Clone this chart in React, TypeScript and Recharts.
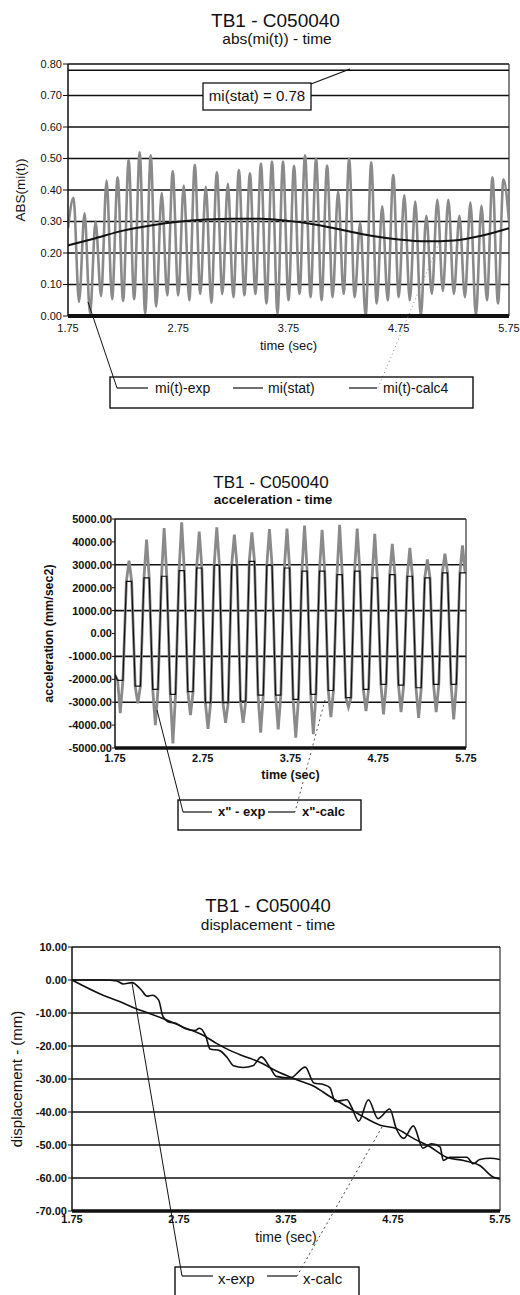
import React from 'react';
import { LineChart, Line, XAxis, YAxis, CartesianGrid, ReferenceLine } from 'recharts';

const FONT = '"Liberation Sans", Arial, Helvetica, sans-serif';
const INK = '#111';
const GREY = '#8a8a8a';

// shared time axis
const TIME_TICKS = [1.75, 2.75, 3.75, 4.75, 5.75];
const TIME_DOMAIN = [1.75, 5.75];

// ---- chart 1: abs(mi(t)) - time
const MI_TICKS = [0, 0.1, 0.2, 0.3, 0.4, 0.5, 0.6, 0.7, 0.8];
const MI_EXP_START = 1.75;
const MI_EXP_STEP = 0.05;
const MI_EXP_FIRST = 0.28;
const MI_EXP_LAST = 0.3;
const MI_EXP_PEAKS = [
  0.375, 0.326, 0.3, 0.43, 0.44, 0.495, 0.52, 0.51, 0.39, 0.46,
  0.414, 0.48, 0.41, 0.456, 0.42, 0.463, 0.453, 0.484, 0.49, 0.49,
  0.477, 0.51, 0.5, 0.478, 0.395, 0.5, 0.297, 0.488, 0.348, 0.448,
  0.383, 0.363, 0.318, 0.369, 0.369, 0.318, 0.36, 0.35, 0.44, 0.434,
];
const MI_EXP_TROUGHS = [
  0.045, 0.008, 0.063, 0.053, 0.048, 0.053, 0.008, 0.03, 0.066, 0.066,
  0.05, 0.07, 0.042, 0.07, 0.06, 0.066, 0.07, 0.04, 0.008, 0.05,
  0.07, 0.06, 0.05, 0.06, 0.07, 0.06, 0.0, 0.04, 0.05, 0.06,
  0.05, 0.0, 0.07, 0.08, 0.07, 0.06, 0.0, 0.05, 0.04,
];
const MI_STAT = 0.78;
const MI_CALC4_TIMES = [1.75, 2.0, 2.25, 2.5, 2.75, 3.0, 3.25, 3.5, 3.75, 4.0, 4.25, 4.5, 4.75, 5.0, 5.25, 5.5, 5.75];
const MI_CALC4 = [0.224, 0.247, 0.271, 0.287, 0.299, 0.306, 0.309, 0.309, 0.302, 0.29, 0.272, 0.255, 0.243, 0.237, 0.24, 0.255, 0.279];
const MI_LEGEND = ['mi(t)-exp', 'mi(stat)', 'mi(t)-calc4'];

// ---- chart 2: acceleration - time
const ACC_TICKS = [-5000, -4000, -3000, -2000, -1000, 0, 1000, 2000, 3000, 4000, 5000];
const ACC_FIRST_TROUGH = 1.81;
const ACC_PERIOD = 0.2;
const ACC_FLAT = 0.03;
const ACC_EXP_FIRST = -1800;
const ACC_EXP_LAST = 3300;
const ACC_EXP_TROUGHS = [
  -3480, -3050, -4000, -4800, -3560, -4160, -3900, -3900, -4330, -4190,
  -4550, -4400, -3650, -3210, -3390, -3530, -3430, -3680, -3430, -3750,
];
const ACC_EXP_PEAKS = [
  3180, 4100, 4600, 4860, 4450, 4640, 4320, 4420, 4560, 4580,
  4710, 4530, 4750, 4580, 4350, 3910, 3740, 3230, 3490, 3850,
];
// levels where the calculated curve flattens (the measured curve crosses them too)
const ACC_CALC_FIRST = -1800;
const ACC_CALC_LAST = 2650;
const ACC_CALC_BOTTOMS = [
  -2050, -2300, -2440, -2660, -2540, -3020, -3020, -2950, -2690, -2690,
  -2880, -2660, -2490, -2800, -2440, -2220, -2250, -2370, -2220, -2220,
];
const ACC_CALC_TOPS = [
  2280, 2430, 2500, 2750, 2860, 2980, 3000, 3150, 2980, 2860,
  2720, 2720, 2570, 2720, 2430, 2570, 2500, 2430, 2650, 2650,
];
const ACC_LEGEND = ['x" - exp', 'x"-calc'];

// ---- chart 3: displacement - time
const DISP_TICKS = [-70, -60, -50, -40, -30, -20, -10, 0, 10];
const DISP_EXP_T = [
  1.75, 1.9, 2.05, 2.17, 2.23, 2.31, 2.4, 2.45, 2.5, 2.56, 2.6, 2.66, 2.72, 2.8, 2.9, 2.94, 3.0,
  3.04, 3.13, 3.2, 3.26, 3.35, 3.44, 3.52, 3.6, 3.66, 3.79, 3.93, 4.01, 4.1, 4.16, 4.21, 4.32,
  4.36, 4.43, 4.52, 4.61, 4.72, 4.78, 4.85, 4.94, 5.03, 5.11, 5.19, 5.22, 5.28, 5.44, 5.5, 5.56,
  5.66, 5.75,
];
const DISP_EXP = [
  0, 0, 0, -0.3, -1.2, -0.8, -3.1, -4.9, -4.6, -6.1, -11.0, -12.8, -13.1, -14.6, -15.3, -14.6, -17.0,
  -20.9, -21.4, -23.5, -26.0, -26.5, -26.0, -23.3, -26.5, -29.2, -29.7, -26.4, -31.2, -31.7, -32.6, -36.8, -36.3,
  -38.3, -42.8, -36.3, -42.0, -39.1, -45.0, -48.0, -44.2, -51.0, -49.6, -50.6, -54.7, -53.7, -53.7, -55.7, -54.4,
  -54.0, -54.4,
];
const DISP_CALC_T = [
  1.75, 2.04, 2.2, 2.35, 2.48, 2.64, 2.79, 2.98, 3.1, 3.23, 3.35, 3.51, 3.66, 3.85,
  4.01, 4.16, 4.32, 4.47, 4.63, 4.78, 4.94, 5.1, 5.25, 5.41, 5.56, 5.69, 5.75,
];
const DISP_CALC = [
  0, -4.6, -6.6, -8.7, -10.2, -12.2, -14.3, -16.8, -19.2, -21.4, -23.0, -25.0, -27.6, -30.2,
  -32.2, -35.3, -38.4, -41.4, -44.0, -45.0, -48.0, -50.6, -53.7, -54.7, -56.2, -59.8, -60.3,
];
const DISP_LEGEND = ['x-exp', 'x-calc'];

const round = (n: number) => Math.round(n * 1000) / 1000;
const fmt2 = (v: number) => v.toFixed(2);

// build series rows
const miExpValues: number[] = [MI_EXP_FIRST];
MI_EXP_PEAKS.forEach((p, i) => {
  miExpValues.push(p);
  if (i < MI_EXP_TROUGHS.length) miExpValues.push(MI_EXP_TROUGHS[i]);
});
miExpValues.push(MI_EXP_LAST);
const miExpData = miExpValues.map((v, i) => ({ t: round(MI_EXP_START + i * MI_EXP_STEP), v }));
const miStatData = [{ t: TIME_DOMAIN[0], v: MI_STAT }, { t: TIME_DOMAIN[1], v: MI_STAT }];
const miCalcData = MI_CALC4_TIMES.map((t, i) => ({ t, v: MI_CALC4[i] }));

const accExpData = [{ t: TIME_DOMAIN[0], v: ACC_EXP_FIRST }];
const accCalcData = [{ t: TIME_DOMAIN[0], v: ACC_CALC_FIRST }];
ACC_EXP_TROUGHS.forEach((tr, k) => {
  const tt = ACC_FIRST_TROUGH + k * ACC_PERIOD;
  const tp = tt + ACC_PERIOD / 2;
  const lo = ACC_CALC_BOTTOMS[k];
  const hi = ACC_CALC_TOPS[k];
  const tpEnd = Math.min(tp + ACC_FLAT, TIME_DOMAIN[1] - 0.005);
  accExpData.push(
    { t: round(tt - ACC_FLAT), v: lo },
    { t: round(tt), v: tr },
    { t: round(tt + ACC_FLAT), v: lo },
    { t: round(tp - ACC_FLAT), v: hi },
    { t: round(tp), v: ACC_EXP_PEAKS[k] },
    { t: round(tpEnd), v: hi },
  );
  accCalcData.push(
    { t: round(tt - ACC_FLAT), v: lo },
    { t: round(tt + ACC_FLAT), v: lo },
    { t: round(tp - ACC_FLAT), v: hi },
    { t: round(tpEnd), v: hi },
  );
});
accExpData.push({ t: TIME_DOMAIN[1], v: ACC_EXP_LAST });
accCalcData.push({ t: TIME_DOMAIN[1], v: ACC_CALC_LAST });

const dispExpData = DISP_EXP_T.map((t, i) => ({ t, v: DISP_EXP[i] }));
const dispCalcData = DISP_CALC_T.map((t, i) => ({ t, v: DISP_CALC[i] }));

type Item = { x1: number; x2: number; tx: number; label: string };

const LegendBox = ({ x, y, w, h, ly, ty, size, weight, items }: {
  x: number; y: number; w: number; h: number; ly: number; ty: number;
  size: number; weight?: string; items: Item[];
}) => (
  <g>
    <rect x={x} y={y} width={w} height={h} fill="none" stroke={INK} strokeWidth={1.4} />
    {items.map((it) => (
      <g key={it.label}>
        <line x1={it.x1} x2={it.x2} y1={ly} y2={ly} stroke={INK} strokeWidth={1.2} />
        <text x={it.tx} y={ty} fontSize={size} fontWeight={weight} fill={INK}>{it.label}</text>
      </g>
    ))}
  </g>
);

const tickStyle = (size: number, bold = false) => ({ fontSize: size, fill: INK, fontWeight: bold ? 'bold' : 'normal' });

export default function App() {
  return (
    <div style={{ position: 'absolute', left: 0, top: 0, width: 520, height: 1295, background: '#fff', fontFamily: FONT, overflow: 'hidden' }}>
      {/* chart 1 */}
      <div style={{ position: 'absolute', left: 0, top: 0 }}>
        <LineChart width={520} height={420} margin={{ top: 64, right: 11, bottom: 64, left: 0 }}>
          <CartesianGrid vertical={false} stroke={INK} strokeWidth={1.6} />
          <XAxis
            type="number" dataKey="t" domain={TIME_DOMAIN} ticks={TIME_TICKS} tickFormatter={fmt2}
            allowDataOverflow height={40} tickLine={false} tickSize={6} tickMargin={2}
            axisLine={{ stroke: INK, strokeWidth: 4 }} tick={tickStyle(11)}
            label={{ value: 'time (sec)', position: 'insideBottom', offset: 6.5, fontSize: 13, fill: INK }}
          />
          <YAxis
            type="number" domain={[0, 0.8]} ticks={MI_TICKS} tickFormatter={fmt2} allowDataOverflow
            width={68} tickSize={5} tickMargin={1} axisLine={{ stroke: INK, strokeWidth: 1.5 }}
            tickLine={{ stroke: INK }} tick={tickStyle(11)}
            label={{ value: 'ABS(mi(t))', angle: -90, position: 'insideLeft', offset: 20, textAnchor: 'middle', fontSize: 13.5, fill: INK }}
          />
          <ReferenceLine x={5.75} stroke="#333" strokeWidth={1.2} />
          <Line data={miExpData} dataKey="v" name={MI_LEGEND[0]} type="monotone" stroke={GREY} strokeWidth={2.6} dot={false} isAnimationActive={false} />
          <Line data={miStatData} dataKey="v" name={MI_LEGEND[1]} type="linear" stroke={INK} strokeWidth={1.6} dot={false} isAnimationActive={false} />
          <Line data={miCalcData} dataKey="v" name={MI_LEGEND[2]} type="monotone" stroke={INK} strokeWidth={2} dot={false} isAnimationActive={false} />
        </LineChart>
      </div>

      {/* chart 2 */}
      <div style={{ position: 'absolute', left: 0, top: 420 }}>
        <LineChart width={520} height={420} margin={{ top: 99, right: 54, bottom: 52, left: 0 }}>
          <CartesianGrid vertical={false} stroke={INK} strokeWidth={1.6} />
          <XAxis
            type="number" dataKey="t" domain={TIME_DOMAIN} ticks={TIME_TICKS} tickFormatter={fmt2}
            allowDataOverflow height={40} tickLine={false} tickSize={4} tickMargin={2}
            axisLine={{ stroke: INK, strokeWidth: 3.5 }} tick={tickStyle(11, true)}
            label={{ value: 'time (sec)', position: 'insideBottom', offset: 9, fontSize: 12.5, fontWeight: 'bold', fill: INK }}
          />
          <YAxis
            type="number" domain={[-5000, 5000]} ticks={ACC_TICKS} tickFormatter={fmt2} allowDataOverflow
            width={115} tickSize={3} tickMargin={0} axisLine={{ stroke: INK, strokeWidth: 1.5 }}
            tickLine={{ stroke: INK }} tick={tickStyle(11, true)}
            label={{ value: 'acceleration (mm/sec2)', angle: -90, position: 'insideLeft', offset: 49, textAnchor: 'middle', fontSize: 12.5, fontWeight: 'bold', fill: INK }}
          />
          <ReferenceLine x={5.75} stroke="#333" strokeWidth={1.2} />
          <Line data={accExpData} dataKey="v" name={ACC_LEGEND[0]} type="linear" stroke={GREY} strokeWidth={2.8} dot={false} isAnimationActive={false} />
          <Line data={accCalcData} dataKey="v" name={ACC_LEGEND[1]} type="linear" stroke={INK} strokeWidth={1.2} dot={false} isAnimationActive={false} />
        </LineChart>
      </div>

      {/* chart 3 */}
      <div style={{ position: 'absolute', left: 0, top: 840 }}>
        <LineChart width={520} height={455} margin={{ top: 107, right: 20, bottom: 44, left: 0 }}>
          <CartesianGrid vertical={false} stroke={INK} strokeWidth={1.6} />
          <XAxis
            type="number" dataKey="t" domain={TIME_DOMAIN} ticks={TIME_TICKS} tickFormatter={fmt2}
            allowDataOverflow height={40} tickLine={false} tickSize={2} tickMargin={2}
            axisLine={{ stroke: INK, strokeWidth: 3.5 }} tick={tickStyle(11, true)}
            label={{ value: 'time (sec)', position: 'insideBottom', offset: 9, fontSize: 14, fill: INK }}
          />
          <YAxis
            type="number" domain={[-70, 10]} ticks={DISP_TICKS} tickFormatter={fmt2} allowDataOverflow
            width={72} tickSize={4} tickMargin={1} axisLine={{ stroke: INK, strokeWidth: 1.5 }}
            tickLine={{ stroke: INK }} tick={tickStyle(11, true)}
            label={{ value: 'displacement - (mm)', angle: -90, position: 'insideLeft', offset: 17, textAnchor: 'middle', fontSize: 15, fill: INK }}
          />
          <ReferenceLine x={5.75} stroke="#333" strokeWidth={1.2} />
          <Line data={dispExpData} dataKey="v" name={DISP_LEGEND[0]} type="monotone" stroke={INK} strokeWidth={1.6} dot={false} isAnimationActive={false} />
          <Line data={dispCalcData} dataKey="v" name={DISP_LEGEND[1]} type="monotone" stroke={INK} strokeWidth={1.6} dot={false} isAnimationActive={false} />
        </LineChart>
      </div>

      {/* titles, annotation, legends and leader lines */}
      <svg width={520} height={1295} style={{ position: 'absolute', left: 0, top: 0, pointerEvents: 'none' }} fontFamily={FONT}>
        <text x={275.5} y={26.5} textAnchor="middle" fontSize={19} fill={INK}>TB1 - C050040</text>
        <text x={277} y={44} textAnchor="middle" fontSize={15.5} fill={INK}>abs(mi(t)) - time</text>
        <line x1={311} y1={84} x2={350} y2={69} stroke={INK} strokeWidth={1.3} />
        <rect x={203} y={83} width={108} height={27} fill="#fff" stroke={INK} strokeWidth={1.3} />
        <text x={257} y={101} textAnchor="middle" fontSize={15} fill={INK}>mi(stat) = 0.78</text>
        <line x1={88} y1={302} x2={117} y2={388} stroke={INK} strokeWidth={1} />
        <line x1={439} y1={243} x2={378} y2={388} stroke="#888" strokeWidth={1} strokeDasharray="1 3" />
        <LegendBox
          x={110} y={377} w={363} h={31} ly={388} ty={392.5} size={14}
          items={[
            { x1: 117, x2: 148, tx: 155, label: MI_LEGEND[0] },
            { x1: 233, x2: 263, tx: 268, label: MI_LEGEND[1] },
            { x1: 349, x2: 377, tx: 383, label: MI_LEGEND[2] },
          ]}
        />

        <text x={271} y={488} textAnchor="middle" fontSize={17} fill={INK}>TB1 - C050040</text>
        <text x={273} y={504} textAnchor="middle" fontSize={13.5} fontWeight="bold" fill={INK}>acceleration - time</text>
        <line x1={157} y1={710} x2={183} y2={812} stroke={INK} strokeWidth={1} />
        <line x1={325} y1={700} x2={295} y2={812} stroke="#555" strokeWidth={1} strokeDasharray="2 3" />
        <LegendBox
          x={178} y={800} w={183} h={30} ly={812} ty={816} size={13} weight="bold"
          items={[
            { x1: 183, x2: 212, tx: 218, label: ACC_LEGEND[0] },
            { x1: 268, x2: 295, tx: 302, label: ACC_LEGEND[1] },
          ]}
        />

        <text x={268} y={912} textAnchor="middle" fontSize={18.5} fill={INK}>TB1 - C050040</text>
        <text x={268} y={930} textAnchor="middle" fontSize={15.5} fill={INK}>displacement - time</text>
        <line x1={132} y1={983} x2={182} y2={1276} stroke={INK} strokeWidth={1} />
        <line x1={382} y1={1127} x2={297} y2={1276} stroke="#444" strokeWidth={1} strokeDasharray="2 3" />
        <LegendBox
          x={175} y={1267} w={184} h={40} ly={1276} ty={1283.5} size={15}
          items={[
            { x1: 182, x2: 213, tx: 218, label: DISP_LEGEND[0] },
            { x1: 267, x2: 297, tx: 303, label: DISP_LEGEND[1] },
          ]}
        />
      </svg>
    </div>
  );
}
